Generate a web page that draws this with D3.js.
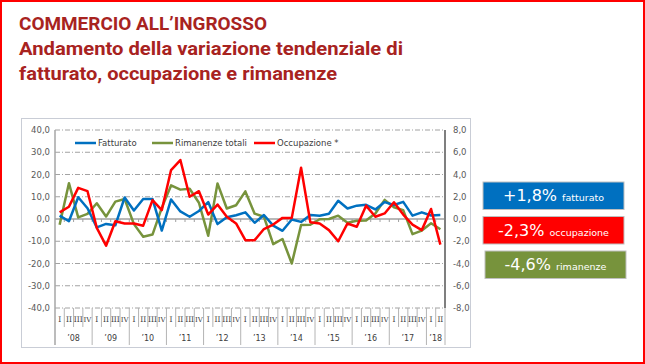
<!DOCTYPE html>
<html>
<head>
<meta charset="utf-8">
<script src="https://cdn.jsdelivr.net/npm/d3@7"></script>
<style>
  body { margin: 0; background: #fff; }
  svg { display: block; }
</style>
</head>
<body>
<div id="chart"></div>
<script>
// data (quarters 2008 I .. 2018 II)
const years = ["’08", "’09", "’10", "’11", "’12", "’13", "’14", "’15", "’16", "’17", "’18"];
const quarterLabels = ["I", "II", "III", "IV"];
const fatturato = [1.5, -1, 9.8, 4.8, -3.8, -2.2, -2.8, 9.7, 3.8, 9, 9, -5.2, 8.8, 3.4, 1, 3.6, 7.6, -2.3, 0.8, 1.7,
    3, -1.7, 1.8, -3, -5.3, -0.2, -1.3, 1.8, 1.5, 2.4, 8.2, 4.7, 6, 6.4, 4.3, 7.6, 6.3, 7.7, 1.5, 3, 1.6, 1.8];
const rimanenze = [-2.6, 16.1, 0.7, 2.3, 7.1, 1.1, 7.8, 9, -2.3, -8, -7, 5, 15.1, 13.2, 13.6, 7.3, -7.5, 16, 4.7, 6.2,
    12.4, 2.4, 1, -11.3, -9, -20, -2.7, -2.6, -0.1, 0, 1.5, -1.7, -0.8, -0.7, 2.5, 8.6, 5.3, 4, -6.8, -5.2, -1.9, -4.6];
// occupazione is read on the right axis
const occupazione = [0.6, 1.1, 2.8, 2.5, -0.8, -2.4, -0.2, -0.4, -0.4, -0.6, 1.7, 0.8, 4.4, 5.3, 2.0, 2.5, 0.4, 1.3, 0.2, -0.4,
    -1.9, -1.9, -0.9, -0.5, 0.1, 0.1, 4.6, -0.3, -0.4, -1.0, -2.0, -0.4, -0.7, 1.2, 0.2, 0.5, 1.5, 0.4, -0.5, -1.0, 0.9, -2.3];
const leftTicks = [40, 30, 20, 10, 0, -10, -20, -30, -40];
const rightTicks = [8, 6, 4, 2, 0, -2, -4, -6, -8];
const badges = [
    {value: "+1,8%", label: "fatturato", color: "#0070C0"},
    {value: "-2,3%", label: "occupazione", color: "#FF0000"},
    {value: "-4,6%", label: "rimanenze", color: "#77933C"}
];

const W = 645, H = 364;
const svg = d3.select("#chart").append("svg")
    .attr("width", W)
    .attr("height", H);

// outer red frame
svg.append("rect")
    .attr("x", 1).attr("y", 1)
    .attr("width", W - 2).attr("height", H - 2)
    .attr("fill", "#fff")
    .attr("stroke", "#FF0000")
    .attr("stroke-width", 2);

// title
const titleLines = [
    {text: "COMMERCIO ALL’INGROSSO", y: 30, w: 248},
    {text: "Andamento della variazione tendenziale di", y: 55, w: 384},
    {text: "fatturato, occupazione e rimanenze", y: 80, w: 318}
];
svg.selectAll(".title")
    .data(titleLines)
    .join("text")
    .attr("class", "title")
    .attr("x", 19)
    .attr("y", d => d.y)
    .attr("textLength", d => d.w)
    .attr("lengthAdjust", "spacingAndGlyphs")
    .attr("font-family", "'Liberation Sans Narrow', 'Roboto', sans-serif")
    .attr("font-weight", "bold")
    .attr("font-size", 18.5)
    .attr("fill", "#A8231F")
    .text(d => d.text);

// chart box
svg.append("rect")
    .attr("x", 21.5).attr("y", 118.5)
    .attr("width", 449).attr("height", 229)
    .attr("fill", "#fff")
    .attr("stroke", "#C9CDD6")
    .attr("stroke-width", 1);

const plotLeft = 55, plotRight = 445, plotTop = 130, plotBottom = 308;
const n = fatturato.length;

const x = d3.scaleBand()
    .domain(d3.range(n))
    .range([plotLeft, plotRight])
    .padding(0);
const cx = i => x(i) + x.bandwidth() / 2;

const y = d3.scaleLinear().domain([-40, 40]).range([plotBottom, plotTop]);
const y2 = d3.scaleLinear().domain([-8, 8]).range([plotBottom, plotTop]);

const fmt = v => d3.format(".1f")(v).replace(".", ",").replace("−", "-");

// grid lines
svg.append("g")
    .selectAll("line")
    .data(leftTicks.filter(d => d !== 0))
    .join("line")
    .attr("x1", plotLeft).attr("x2", plotRight)
    .attr("y1", d => y(d)).attr("y2", d => y(d))
    .attr("stroke", "#8C8C8C")
    .attr("stroke-width", 0.8)
    .attr("stroke-dasharray", "5,2,1,2");

// zero line with small ticks
svg.append("line")
    .attr("x1", plotLeft).attr("x2", plotRight)
    .attr("y1", y(0)).attr("y2", y(0))
    .attr("stroke", "#A0A0A0")
    .attr("stroke-width", 1.5);
svg.append("g")
    .selectAll("line")
    .data(d3.range(1, n))
    .join("line")
    .attr("x1", d => x(d)).attr("x2", d => x(d))
    .attr("y1", y(0)).attr("y2", y(0) + 3)
    .attr("stroke", "#A0A0A0")
    .attr("stroke-width", 1);

// left axis
const axisFont = "'DejaVu Sans', sans-serif";
svg.append("line")
    .attr("x1", plotLeft).attr("x2", plotLeft)
    .attr("y1", plotTop).attr("y2", 345)
    .attr("stroke", "#A6A6A6")
    .attr("stroke-width", 1.5);
svg.append("g")
    .selectAll("text")
    .data(leftTicks)
    .join("text")
    .attr("x", 50)
    .attr("y", d => y(d) + 3)
    .attr("text-anchor", "end")
    .attr("font-family", axisFont)
    .attr("font-size", 8.5)
    .attr("fill", "#595959")
    .text(d => fmt(d));

// right axis
svg.append("line")
    .attr("x1", plotRight).attr("x2", plotRight)
    .attr("y1", plotTop).attr("y2", plotBottom)
    .attr("stroke", "#7F7F7F")
    .attr("stroke-width", 2);
svg.append("g")
    .selectAll("text")
    .data(rightTicks)
    .join("text")
    .attr("x", 453)
    .attr("y", d => y2(d) + 3)
    .attr("font-family", axisFont)
    .attr("font-size", 8.5)
    .attr("fill", "#595959")
    .text(d => fmt(d));

// category axis (quarters / years)
const quarters = d3.range(n).map(i => ({i: i, q: i % 4, year: Math.floor(i / 4)}));
svg.append("g")
    .selectAll("line")
    .data(d3.range(1, n + 1))
    .join("line")
    .attr("x1", d => d === n ? plotRight : x(d)).attr("x2", d => d === n ? plotRight : x(d))
    .attr("y1", plotBottom)
    .attr("y2", d => (d % 4 === 0 || d === n) ? 345 : 327)
    .attr("stroke", "#B4B4B4")
    .attr("stroke-width", 1);
svg.append("g")
    .selectAll("text")
    .data(quarters)
    .join("text")
    .attr("x", d => cx(d.i))
    .attr("y", 322)
    .attr("text-anchor", "middle")
    .attr("font-family", "'DejaVu Serif', serif")
    .attr("font-size", d => d.q === 3 ? 7 : 7.5)
    .attr("fill", "#404040")
    .text(d => quarterLabels[d.q]);
svg.append("g")
    .selectAll("text")
    .data(years)
    .join("text")
    .attr("x", (d, k) => {
        const idx = quarters.filter(q => q.year === k).map(q => q.i);
        return (x(idx[0]) + x(idx[idx.length - 1]) + x.bandwidth()) / 2;
    })
    .attr("y", 341)
    .attr("text-anchor", "middle")
    .attr("font-family", axisFont)
    .attr("font-size", 8)
    .attr("fill", "#404040")
    .text(d => d);

// series lines
const series = [
    {data: rimanenze, color: "#77933C", scale: y},
    {data: fatturato, color: "#0070C0", scale: y},
    {data: occupazione, color: "#FF0000", scale: y2}
];
series.forEach(s => {
    svg.append("path")
        .datum(s.data)
        .attr("fill", "none")
        .attr("stroke", s.color)
        .attr("stroke-width", 2.5)
        .attr("stroke-linejoin", "round")
        .attr("d", d3.line()
            .x((d, i) => cx(i))
            .y(d => s.scale(d)));
});

// legend
const legend = [
    {label: "Fatturato", color: "#0070C0", x: 75},
    {label: "Rimanenze totali", color: "#77933C", x: 152},
    {label: "Occupazione *", color: "#FF0000", x: 254}
];
const lg = svg.append("g")
    .selectAll("g")
    .data(legend)
    .join("g")
    .attr("transform", d => `translate(${d.x},143)`);
lg.append("line")
    .attr("x1", 0).attr("x2", 21)
    .attr("stroke", d => d.color)
    .attr("stroke-width", 2.5);
lg.append("text")
    .attr("x", 23)
    .attr("y", 3)
    .attr("font-family", axisFont)
    .attr("font-size", 8.5)
    .attr("fill", "#404040")
    .text(d => d.label);

// value badges
const bg = svg.append("g")
    .selectAll("g")
    .data(badges)
    .join("g")
    .attr("transform", (d, k) => `translate(${483 + (k === 2 ? 2 : 0)},${182 + k * 34.5})`);
bg.append("rect")
    .attr("width", 141)
    .attr("height", 27.5)
    .attr("fill", d => d.color)
    .attr("stroke", "#BFBFBF")
    .attr("stroke-width", 1);
const bt = bg.append("text")
    .attr("x", 70.5)
    .attr("y", 19)
    .attr("text-anchor", "middle")
    .attr("font-family", "'DejaVu Sans', sans-serif")
    .attr("fill", "#fff");
bt.append("tspan")
    .attr("font-size", 16)
    .text(d => d.value + " ");
bt.append("tspan")
    .attr("font-size", 9.5)
    .text(d => d.label);
</script>
</body>
</html>
